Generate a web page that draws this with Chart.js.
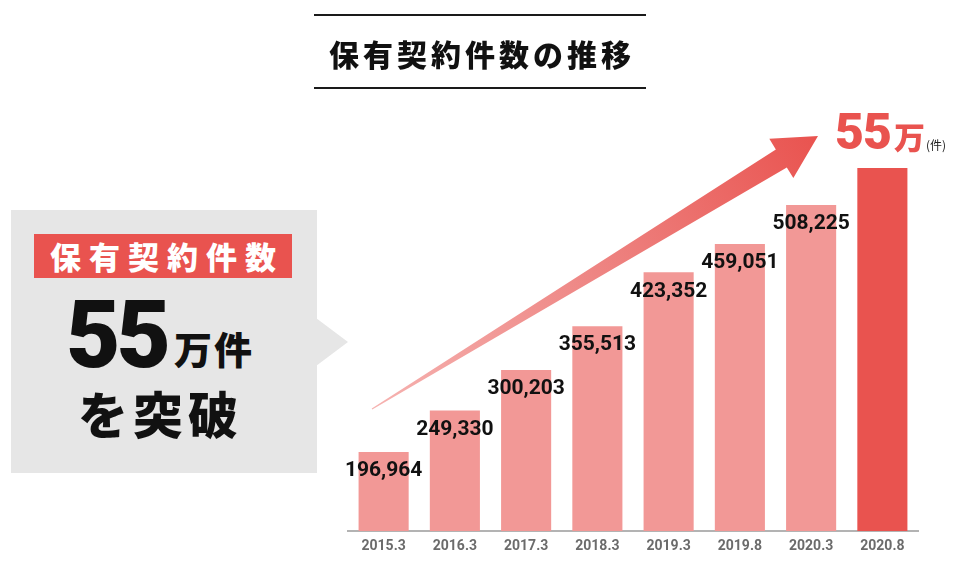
<!DOCTYPE html>
<html lang="ja">
<head>
<meta charset="utf-8">
<title>保有契約件数の推移</title>
<script src="https://cdn.jsdelivr.net/npm/chart.js@4.4.1/dist/chart.umd.min.js"></script>
<style>
  html, body { margin: 0; padding: 0; background: #ffffff; }
  #wrap { position: relative; width: 960px; height: 568px; overflow: hidden; font-family: "Noto Sans CJK JP", "Noto Sans", sans-serif; }
  #chart { position: absolute; left: 0; top: 0; }
  .abs { position: absolute; white-space: nowrap; }
  .rule { position: absolute; left: 314px; width: 332px; height: 2px; background: #1a1a1a; }
  #title { left: 314px; width: 332px; top: 33px; text-align: center; font-size: 30px; line-height: 40px; font-weight: 900; letter-spacing: 4px; color: #111; padding-left: 4px; box-sizing: border-box; }
  #box { position: absolute; left: 11px; top: 210px; width: 306px; height: 263px; background: #e6e6e6; }
  #tag { position: absolute; left: 34px; top: 234px; width: 258px; height: 44px; background: #e9534f; color: #fff; font-size: 31px; font-weight: 900; line-height: 44px; text-align: center; letter-spacing: 8px; padding-left: 8px; box-sizing: border-box; }
  #big55 { left: 66px; top: 288px; font-family: Roboto, "Liberation Sans", sans-serif; font-weight: 900; font-size: 94px; line-height: 94px; letter-spacing: -4px; color: #111; }
  #mankan { left: 174px; top: 324px; font-size: 38px; line-height: 48px; font-weight: 900; letter-spacing: 2px; color: #111; }
  #toppa { left: 78px; top: 380px; font-size: 50px; line-height: 64px; font-weight: 900; letter-spacing: 5px; color: #111; }
  #red55 { left: 835px; top: 107px; font-family: Roboto, "Liberation Sans", sans-serif; font-weight: 900; font-size: 50px; line-height: 50px; letter-spacing: -1px; color: #e9534f; }
  #redman { left: 894px; top: 117px; font-size: 31px; line-height: 38px; font-weight: 900; color: #e9534f; }
  #redken { left: 926px; top: 137px; font-size: 12px; line-height: 16px; font-weight: 400; color: #222; }
</style>
</head>
<body>
<div id="wrap">
  <canvas id="chart" width="960" height="568"></canvas>
  <div class="rule" style="top:14px"></div>
  <div class="abs" id="title">保有契約件数の推移</div>
  <div class="rule" style="top:87px"></div>

  <div id="box"></div>
  <svg class="abs" style="left:0;top:0" width="960" height="568" pointer-events="none">
    <polygon points="316,318 348,342 316,366" fill="#e6e6e6"/>
  </svg>
  <div id="tag">保有契約件数</div>
  <div class="abs" id="big55">55</div>
  <div class="abs" id="mankan">万件</div>
  <div class="abs" id="toppa">を突破</div>

  <div class="abs" id="red55">55</div>
  <div class="abs" id="redman">万</div>
  <div class="abs" id="redken">(件)</div>
</div>
<script>
// ---- data ----
const categories = ['2015.3', '2016.3', '2017.3', '2018.3', '2019.3', '2019.8', '2020.3', '2020.8'];
const contracts  = [196964, 249330, 300203, 355513, 423352, 459051, 508225, 555000];
const showValue  = [true, true, true, true, true, true, true, false];

// ---- styles ----
const PINK = '#f29896';
const RED  = '#e9534f';

const arrowPlugin = {
  id: 'trendArrow',
  beforeDatasetsDraw(chart) {
    const ctx = chart.ctx;
    const tail = { x: 372, y: 409 };
    const tip  = { x: 818, y: 136 };
    const dx = tip.x - tail.x, dy = tip.y - tail.y;
    const len = Math.hypot(dx, dy);
    const ux = dx / len, uy = dy / len;
    const px = -uy, py = ux;
    const headLen = 43, headHalf = 23, shaftHalf = 10.5;
    const bx = tip.x - ux * headLen, by = tip.y - uy * headLen;
    const g = ctx.createLinearGradient(tail.x, tail.y, tip.x, tip.y);
    g.addColorStop(0, '#f6b3b1');
    g.addColorStop(0.5, '#ee8583');
    g.addColorStop(1, '#e9534f');
    ctx.save();
    ctx.fillStyle = g;
    ctx.beginPath();
    ctx.moveTo(tail.x + px * 0.5, tail.y + py * 0.5);
    ctx.lineTo(bx + px * shaftHalf, by + py * shaftHalf);
    ctx.lineTo(bx + px * headHalf, by + py * headHalf);
    ctx.lineTo(tip.x, tip.y);
    ctx.lineTo(bx - px * headHalf, by - py * headHalf);
    ctx.lineTo(bx - px * shaftHalf, by - py * shaftHalf);
    ctx.lineTo(tail.x - px * 0.5, tail.y - py * 0.5);
    ctx.closePath();
    ctx.fill();
    ctx.restore();
  }
};

const valueLabelPlugin = {
  id: 'valueLabels',
  afterDatasetsDraw(chart) {
    const ctx = chart.ctx;
    const meta = chart.getDatasetMeta(0);
    ctx.save();
    ctx.font = '700 21px Roboto, "Liberation Sans", sans-serif';
    ctx.fillStyle = '#111111';
    ctx.textAlign = 'center';
    ctx.textBaseline = 'middle';
    meta.data.forEach((bar, i) => {
      if (!showValue[i]) return;
      ctx.fillText(contracts[i].toLocaleString('en-US'), bar.x, bar.y + 19);
    });
    ctx.restore();
  }
};

new Chart(document.getElementById('chart'), {
  type: 'bar',
  data: {
    labels: categories,
    datasets: [{
      data: contracts,
      backgroundColor: (c) => c.dataIndex === categories.length - 1 ? RED : PINK,
      borderWidth: 0,
      barPercentage: 1,
      categoryPercentage: 0.703
    }]
  },
  options: {
    responsive: false,
    devicePixelRatio: 1,
    animation: false,
    events: [],
    layout: { padding: { left: 348, right: 42, top: 100, bottom: 7 } },
    plugins: { legend: { display: false }, tooltip: { enabled: false }, title: { display: false } },
    scales: {
      x: {
        grid: { display: false, drawTicks: false },
        border: { display: true, color: '#b3b3b3', width: 2 },
        ticks: { color: '#6b6b6b', font: { family: 'Roboto, "Liberation Sans", sans-serif', weight: '700', size: 14 }, padding: 7 },
        afterFit: (s) => { s.height = 30; }
      },
      y: {
        display: false,
        min: 97370,
        max: 640600
      }
    }
  },
  plugins: [arrowPlugin, valueLabelPlugin]
});
</script>
</body>
</html>
